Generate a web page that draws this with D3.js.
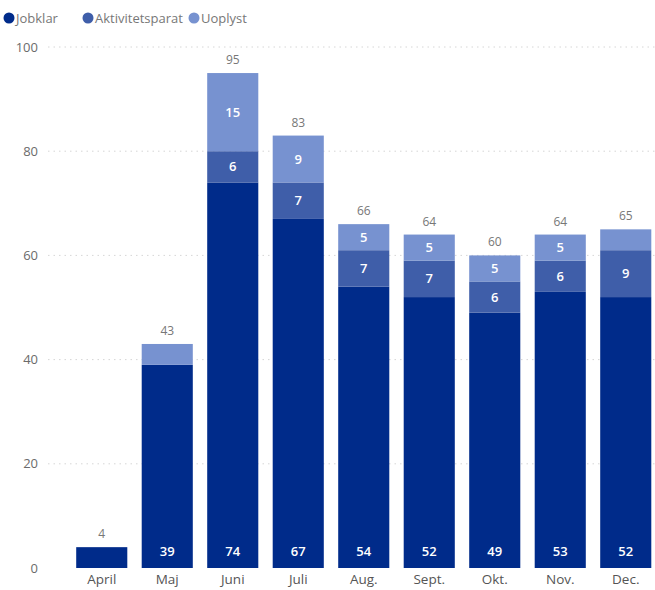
<!DOCTYPE html>
<html>
<head>
<meta charset="utf-8">
<script src="https://cdn.jsdelivr.net/npm/d3@7"></script>
<style>
  body { margin: 0; background: #fff; }
  text { font-family: "Segoe UI", "Open Sans", "Noto Sans", sans-serif; }
</style>
</head>
<body>
<svg></svg>
<script>
var months = ["April", "Maj", "Juni", "Juli", "Aug.", "Sept.", "Okt.", "Nov.", "Dec."];
var series = ["Jobklar", "Aktivitetsparat", "Uoplyst"];
var jobklar = [4, 39, 74, 67, 54, 52, 49, 53, 52];
var aktivitetsparat = [0, 0, 6, 7, 7, 7, 6, 6, 9];
var uoplyst = [0, 4, 15, 9, 5, 5, 5, 5, 4];
var yTicks = [0, 20, 40, 60, 80, 100];

var width = 655, height = 590;
var svg = d3.select("svg").attr("width", width).attr("height", height);

var colors = d3.scaleOrdinal()
  .domain(series)
  .range(["#002b8a", "#3f5ea9", "#7792d0"]);

var rows = months.map((m, i) => ({
  month: m,
  Jobklar: jobklar[i],
  Aktivitetsparat: aktivitetsparat[i],
  Uoplyst: uoplyst[i]
}));

var x = d3.scaleBand().domain(months).range([69, 658.5])
  .paddingInner(0.22).paddingOuter(0.11);
var y = d3.scaleLinear().domain([0, 100]).range([568, 47]);

// grid
svg.append("g")
  .selectAll("line")
  .data(yTicks.filter(t => t > 0))
  .enter().append("line")
    .attr("x1", 48).attr("x2", 655)
    .attr("y1", d => y(d)).attr("y2", d => y(d))
    .attr("stroke", "#d6d6d6")
    .attr("stroke-dasharray", "1.5,4");

// y axis
var yAxis = svg.append("g")
  .attr("transform", "translate(38,0)")
  .call(d3.axisLeft(y).tickValues(yTicks).tickSize(0).tickPadding(0));
yAxis.select(".domain").remove();
yAxis.selectAll("text").attr("fill", "#6b6b6b").style("font-size", "13px");

// x axis
var xAxis = svg.append("g")
  .attr("transform", "translate(0,568)")
  .call(d3.axisBottom(x).tickSize(0).tickPadding(6));
xAxis.select(".domain").remove();
xAxis.selectAll("text").attr("fill", "#555").style("font-size", "13.5px");

var stacked = d3.stack().keys(series)(rows);

var layers = svg.append("g").selectAll("g")
  .data(stacked)
  .enter().append("g")
    .attr("fill", d => colors(d.key));

layers.selectAll("rect")
  .data(d => d.filter(s => s[1] - s[0] > 0))
  .enter().append("rect")
    .attr("x", d => x(d.data.month))
    .attr("width", x.bandwidth())
    .attr("y", d => y(d[1]))
    .attr("height", d => y(d[0]) - y(d[1]));

// segment labels
var labels = svg.append("g").attr("fill", "#fff")
  .style("font-size", "13px").style("font-weight", "600")
  .attr("text-anchor", "middle");

stacked.forEach(layer => {
  layer.forEach(s => {
    var v = s[1] - s[0];
    if (v < 5 || (layer.key === "Jobklar" && v < 10)) return;
    var cy = layer.key === "Jobklar" ? y(0) - 17 : (y(s[0]) + y(s[1])) / 2;
    labels.append("text")
      .attr("x", x(s.data.month) + x.bandwidth() / 2)
      .attr("y", cy)
      .attr("dy", "0.35em")
      .text(v);
  });
});

// totals
svg.append("g").selectAll("text")
  .data(rows)
  .enter().append("text")
    .attr("x", d => x(d.month) + x.bandwidth() / 2)
    .attr("y", d => y(d.Jobklar + d.Aktivitetsparat + d.Uoplyst) - 9)
    .attr("text-anchor", "middle")
    .attr("fill", "#777")
    .style("font-size", "12px")
    .text(d => d.Jobklar + d.Aktivitetsparat + d.Uoplyst);

// legend
var legendX = [9, 88, 194];
var legend = svg.append("g").selectAll("g")
  .data(series)
  .enter().append("g")
    .attr("transform", (d, i) => "translate(" + legendX[i] + ",18)");
legend.append("circle").attr("r", 5.5).attr("fill", d => colors(d));
legend.append("text")
  .attr("x", 7).attr("dy", "0.35em")
  .attr("fill", "#777")
  .style("font-size", "13px")
  .text(d => d);
</script>
</body>
</html>
